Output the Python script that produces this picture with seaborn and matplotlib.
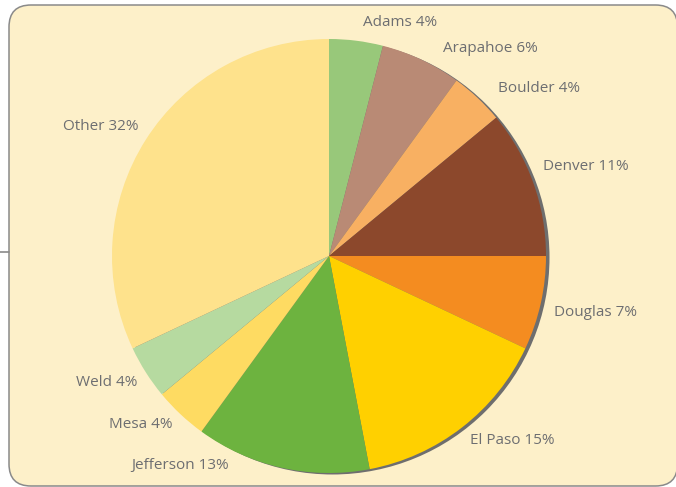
import matplotlib
matplotlib.use("Agg")
import matplotlib.pyplot as plt
from matplotlib.patches import FancyBboxPatch, Circle
import seaborn as sns

# ---- data ----
counties = ["Adams", "Arapahoe", "Boulder", "Denver", "Douglas",
            "El Paso", "Jefferson", "Mesa", "Weld", "Other"]
shares = [4, 6, 4, 11, 7, 15, 13, 4, 4, 32]
slice_colors = ["#98C87A", "#B98A75", "#F8B062", "#8C482C", "#F48C20",
                "#FFD000", "#6DB33F", "#FEDB62", "#B6DAA0", "#FEE28C"]
# label anchor positions (pixel space of the 676x487 image)
label_x = [400, 490, 539, 586, 595, 512, 180, 141, 107, 101]
label_y = [22, 49, 88, 167, 312, 440, 465, 425, 382, 126]

W, H = 676, 487
sns.set_style("white")
plt.rcParams['font.family'] = ['Open Sans', 'DejaVu Sans']

fig = plt.figure(figsize=(W / 100, H / 100), dpi=100)
fig.patch.set_facecolor("white")
ax = fig.add_axes([0, 0, 1, 1])
ax.set_xlim(0, W)
ax.set_ylim(0, H)
ax.set_aspect("equal")
ax.axis("off")

# background panel (pixel y 5 -> 486, x 9 -> ~677)
panel = FancyBboxPatch((9, H - 486), 668.5, 481,
                       boxstyle="round,pad=0,rounding_size=22",
                       facecolor="#FDF0C9", edgecolor="#8A8A8A", linewidth=1.1,
                       zorder=0)
ax.add_patch(panel)
ax.plot([0, 9], [H - 252, H - 252], color="#8A8A8A", lw=1.2, zorder=1)

cx, cy, r = 329, H - 256, 217
# drop shadow
ax.add_patch(Circle((cx + 3.5, cy - 1.5), r, facecolor="#6E6E6E",
                    edgecolor="none", zorder=1))

palette = sns.color_palette(slice_colors)
wedges, _ = ax.pie(shares, colors=palette, startangle=90, counterclock=False,
                   center=(cx, cy), radius=r, frame=True,
                   wedgeprops=dict(edgecolor="none"))
for w in wedges:
    w.set_zorder(2)
ax.set_xlim(0, W)
ax.set_ylim(0, H)
ax.axis("off")

for name, pct, lx, ly in zip(counties, shares, label_x, label_y):
    ax.text(lx, H - ly, f"{name} {pct}%", ha="center", va="center",
            fontsize=11, color="#6D6E71", zorder=3)

fig.savefig("out.png", dpi=100, facecolor="white")
